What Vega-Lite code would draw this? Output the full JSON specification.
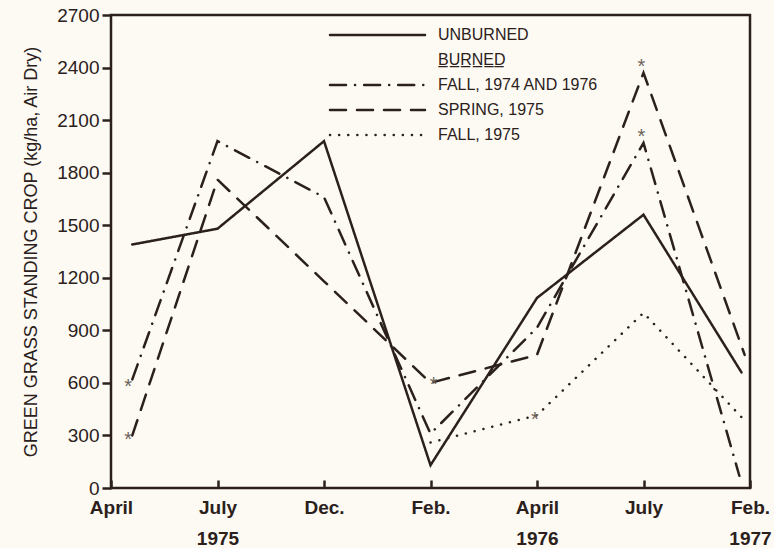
{
  "$schema": "https://vega.github.io/schema/vega-lite/v6.json",
  "width": 639,
  "height": 473,
  "autosize": {"type": "none"},
  "padding": {"left": 111, "top": 15, "right": 24, "bottom": 60},
  "background": "#fcfaf2",
  "config": {
    "view": {"stroke": "#2b201c", "strokeWidth": 2.5},
    "font": "Liberation Sans",
    "axis": {"domain": false, "grid": false, "labelColor": "#2b201c", "tickColor": "#2b201c", "titleColor": "#2b201c"}
  },
  "datasets": {
    "lines": [
      {"series": "UNBURNED", "t": 0.2, "v": 1390},
      {"series": "UNBURNED", "t": 1, "v": 1480},
      {"series": "UNBURNED", "t": 2, "v": 1980},
      {"series": "UNBURNED", "t": 3, "v": 130},
      {"series": "UNBURNED", "t": 4, "v": 1085},
      {"series": "UNBURNED", "t": 5, "v": 1560},
      {"series": "UNBURNED", "t": 5.92, "v": 660},
      {"series": "FALL, 1974 AND 1976", "t": 0.2, "v": 620},
      {"series": "FALL, 1974 AND 1976", "t": 1, "v": 1980},
      {"series": "FALL, 1974 AND 1976", "t": 2, "v": 1660},
      {"series": "FALL, 1974 AND 1976", "t": 3, "v": 310},
      {"series": "FALL, 1974 AND 1976", "t": 4, "v": 915},
      {"series": "FALL, 1974 AND 1976", "t": 5, "v": 1970},
      {"series": "FALL, 1974 AND 1976", "t": 5.9, "v": 70},
      {"series": "SPRING, 1975", "t": 0.2, "v": 300},
      {"series": "SPRING, 1975", "t": 1, "v": 1760},
      {"series": "SPRING, 1975", "t": 2, "v": 1180},
      {"series": "SPRING, 1975", "t": 3, "v": 600},
      {"series": "SPRING, 1975", "t": 4, "v": 760},
      {"series": "SPRING, 1975", "t": 5, "v": 2370},
      {"series": "SPRING, 1975", "t": 5.95, "v": 760},
      {"series": "FALL, 1975", "t": 3, "v": 260},
      {"series": "FALL, 1975", "t": 4, "v": 415},
      {"series": "FALL, 1975", "t": 5, "v": 1000},
      {"series": "FALL, 1975", "t": 5.95, "v": 385}
    ],
    "stars": [
      {"t": 0.16, "v": 605, "mark": "*"},
      {"t": 0.16, "v": 300, "mark": "*"},
      {"t": 3.03, "v": 616, "mark": "*"},
      {"t": 3.98, "v": 417, "mark": "*"},
      {"t": 4.98, "v": 2430, "mark": "*"},
      {"t": 4.98, "v": 2030, "mark": "*"}
    ]
  },
  "layer": [
    {
      "data": {"name": "lines"},
      "mark": {"type": "line", "color": "#2b201c", "strokeWidth": 2.5, "strokeCap": "round", "strokeJoin": "miter"},
      "encoding": {
        "x": {
          "field": "t", "type": "quantitative",
          "scale": {"domain": [0, 6], "nice": false, "zero": false},
          "axis": {
            "values": [0, 1, 2, 3, 4, 5, 6], "title": null,
            "tickSize": -8, "tickWidth": 2.5, "labelPadding": 18,
            "labelFlush": false, "labelOverlap": false, "labelBound": false,
            "labelFont": "Liberation Sans", "labelFontWeight": "bold", "labelFontSize": 19, "labelLineHeight": 31,
            "labelExpr": "datum.value == 0 ? 'April' : datum.value == 1 ? ['July', '1975'] : datum.value == 2 ? 'Dec.' : datum.value == 3 ? 'Feb.' : datum.value == 4 ? ['April', '1976'] : datum.value == 5 ? 'July' : ['Feb.', '1977']"
          }
        },
        "y": {
          "field": "v", "type": "quantitative",
          "scale": {"domain": [0, 2700], "nice": false},
          "axis": {
            "values": [0, 300, 600, 900, 1200, 1500, 1800, 2100, 2400, 2700],
            "format": "d",
            "title": "GREEN GRASS STANDING CROP (kg/ha, Air Dry)",
            "tickSize": 9, "tickWidth": 2.5, "labelPadding": 3,
            "labelFontSize": 19, "labelFont": "Liberation Sans",
            "titleFont": "Liberation Sans", "titleFontSize": 18, "titleFontWeight": "normal", "titlePadding": 16
          }
        },
        "strokeDash": {
          "field": "series", "type": "nominal",
          "scale": {
            "domain": ["UNBURNED", "B̲U̲R̲N̲E̲D̲", "FALL, 1974 AND 1976", "SPRING, 1975", "FALL, 1975"],
            "range": [[1, 0], [1, 0], [16, 9, 0.1, 9], [16, 11], [0.1, 9]]
          },
          "legend": {
            "orient": "none", "legendX": 219, "legendY": 12, "title": null,
            "symbolType": "stroke", "symbolSize": 9025, "symbolStrokeWidth": 2.5, "symbolStrokeColor": "#2b201c",
            "labelFont": "Liberation Sans", "labelFontSize": 16, "labelColor": "#2b201c", "labelLimit": 400,
            "rowPadding": 9,
            "encode": {
              "symbols": {"update": {"x": {"value": 47.5}, "y": {"value": 8}, "strokeCap": {"value": "round"}, "stroke": {"value": "#2b201c"}, "opacity": {"signal": "indexof(datum.value, 'B̲') == 0 ? 0 : 1"}}},
              "labels": {"update": {"x": {"value": 108}, "y": {"value": 8}}}
            }
          }
        },
        "detail": {"field": "series"}
      }
    },
    {
      "data": {"name": "stars"},
      "mark": {"type": "text", "color": "#6b625c", "fontSize": 20, "font": "Liberation Sans", "baseline": "middle", "dy": 5},
      "encoding": {
        "x": {"field": "t", "type": "quantitative"},
        "y": {"field": "v", "type": "quantitative"},
        "text": {"field": "mark"}
      }
    }
  ]
}
